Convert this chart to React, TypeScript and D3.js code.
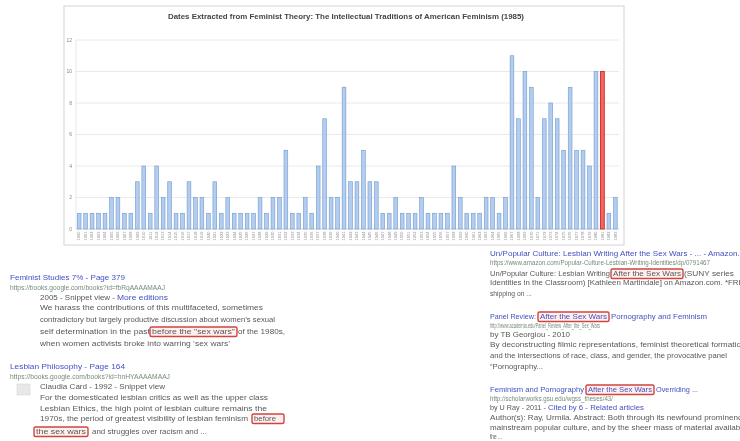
import React from 'react';
import * as d3 from 'd3';

const chartTitle = 'Dates Extracted from Feminist Theory: The Intellectual Traditions of American Feminism (1985)';
const years: string[] = [
  '1900','1901','1902','1903','1904','1905','1906','1907','1908','1909',
  '1910','1911','1912','1913','1914','1915','1916','1917','1918','1919',
  '1920','1921','1922','1923','1924','1925','1926','1927','1928','1929',
  '1930','1931','1932','1933','1934','1935','1936','1937','1938','1939',
  '1940','1941','1942','1943','1944','1945','1946','1947','1948','1949',
  '1950','1951','1952','1953','1954','1955','1956','1957','1958','1959',
  '1960','1961','1962','1963','1964','1965','1966','1967','1968','1969',
  '1970','1971','1972','1973','1974','1975','1976','1977','1978','1979',
  '1980','1981','1982','1983'
];
const counts: number[] = [
  1,1,1,1,1,2,2,1,1,3,
  4,1,4,2,3,1,1,3,2,2,
  1,3,1,2,1,1,1,1,2,1,
  2,2,5,1,1,2,1,4,7,2,
  2,9,3,3,5,3,3,1,1,2,
  1,1,1,2,1,1,1,1,4,2,
  1,1,1,2,2,1,2,11,7,10,
  9,2,7,8,7,5,9,5,5,4,
  10,10,1,2
];
const highlightYear = '1981';
const yTicks: number[] = [0, 2, 4, 6, 8, 10, 12];

type Seg = { t: string; x: number; w: number; c?: string; box?: boolean; bw?: number };
type Line = { y: number; segs: Seg[] };

const BLUE = '#4350c2';
const GREEN = '#768b78';
const GRAY = '#585858';

const resultLines: Line[] = [
  { y: 280, segs: [{ t: 'Feminist Studies 7% - Page 379', x: 10, w: 115, c: BLUE }] },
  { y: 290, segs: [{ t: 'https://books.google.com/books?id=fbRqAAAAMAAJ', x: 10, w: 155, c: GREEN }] },
  { y: 300, segs: [{ t: '2005 - Snippet view -', x: 40, w: 75 }, { t: 'More editions', x: 117, w: 51, c: BLUE }] },
  { y: 310, segs: [{ t: 'We harass the contributions of this multifaceted, sometimes', x: 40, w: 223 }] },
  { y: 322, segs: [{ t: 'contradictory but largely productive discussion about women\u2019s sexual', x: 40, w: 235 }] },
  { y: 334, segs: [{ t: 'self determination in the past', x: 40, w: 110 }, { t: 'before the "sex wars"', x: 152, w: 83, box: true }, { t: 'of the 1980s,', x: 238, w: 47 }] },
  { y: 346, segs: [{ t: 'when women activists broke into warring \u2018sex wars\u2019', x: 40, w: 190 }] },

  { y: 369, segs: [{ t: 'Lesbian Philosophy - Page 164', x: 10, w: 115, c: BLUE }] },
  { y: 379, segs: [{ t: 'https://books.google.com/books?id=hnHYAAAAMAAJ', x: 10, w: 160, c: GREEN }] },
  { y: 389, segs: [{ t: 'Claudia Card - 1992 - Snippet view', x: 40, w: 125 }] },
  { y: 400, segs: [{ t: 'For the domesticated lesbian critics as well as the upper class', x: 40, w: 228 }] },
  { y: 410.5, segs: [{ t: 'Lesbian Ethics, the high point of lesbian culture remains the', x: 40, w: 227 }] },
  { y: 421, segs: [{ t: '1970s, the period of greatest visibility of lesbian feminism', x: 40, w: 208 }, { t: 'before', x: 254, w: 22, box: true, bw: 28 }] },
  { y: 434, segs: [{ t: 'the sex wars', x: 36, w: 50, box: true }, { t: 'and struggles over racism and ...', x: 92, w: 115 }] },

  { y: 256, segs: [{ t: 'Un/Popular Culture: Lesbian Writing After the Sex Wars - ... - Amazon.com', x: 490, w: 265, c: BLUE }] },
  { y: 265, segs: [{ t: 'https://www.amazon.com/Popular-Culture-Lesbian-Writing-Identities/dp/0791467', x: 490, w: 220, c: GREEN }] },
  { y: 276, segs: [{ t: 'Un/Popular Culture: Lesbian Writing', x: 490, w: 120 }, { t: 'After the Sex Wars', x: 613, w: 68, box: true }, { t: '(SUNY series', x: 684, w: 50 }] },
  { y: 285, segs: [{ t: 'Identities in the Classroom) [Kathleen Martindale] on Amazon.com. *FREE*', x: 490, w: 262 }] },
  { y: 296, segs: [{ t: 'shipping on ...', x: 490, w: 42 }] },

  { y: 319, segs: [{ t: 'Panel Review:', x: 490, w: 46, c: BLUE }, { t: 'After the Sex Wars', x: 540, w: 67, c: BLUE, box: true }, { t: 'Pornography and Feminism', x: 611, w: 96, c: BLUE }] },
  { y: 328, segs: [{ t: 'http://www.academia.edu/Panel_Review_After_the_Sex_Wars', x: 490, w: 110, c: GREEN }] },
  { y: 337, segs: [{ t: 'by TB Georgiou - 2010', x: 490, w: 80 }] },
  { y: 347, segs: [{ t: 'By deconstructing filmic representations, feminist theoretical formations,', x: 490, w: 262 }] },
  { y: 358, segs: [{ t: 'and the intersections of race, class, and gender, the provocative panel', x: 490, w: 237 }] },
  { y: 369, segs: [{ t: '\u201cPornography...', x: 490, w: 53 }] },

  { y: 392, segs: [{ t: 'Feminism and Pornography', x: 490, w: 94, c: BLUE }, { t: 'After the Sex Wars', x: 588, w: 64, c: BLUE, box: true }, { t: 'Overriding ...', x: 656, w: 42, c: BLUE }] },
  { y: 401, segs: [{ t: 'http://scholarworks.gsu.edu/wgss_theses/43/', x: 490, w: 123, c: GREEN }] },
  { y: 410, segs: [{ t: 'by U Ray - 2011 -', x: 490, w: 56 }, { t: 'Cited by 6 - Related articles', x: 548, w: 96, c: BLUE }] },
  { y: 420, segs: [{ t: 'Author(s): Ray, Urmila. Abstract: Both through its newfound prominence in', x: 490, w: 265 }] },
  { y: 430, segs: [{ t: 'mainstream popular culture, and by the sheer mass of material available in', x: 490, w: 265 }] },
  { y: 439, segs: [{ t: 'the ...', x: 490, w: 12 }] },
];

export default function App() {
  const W = 740, H = 441;
  const x = d3.scaleBand<string>().domain(years).range([76, 618.5]).paddingInner(0.42).paddingOuter(0.2);
  const y = d3.scaleLinear().domain([0, 12]).range([229, 40]);
  const font = 'Liberation Sans, Arial, sans-serif';

  return (
    <svg width={W} height={H} style={{ position: 'absolute', left: 0, top: 0, background: '#fff' }} fontFamily={font}>
      <defs>
        <filter id="soft" x="-2%" y="-2%" width="104%" height="104%">
          <feGaussianBlur stdDeviation={0.4} />
        </filter>
      </defs>
      <rect x={0} y={0} width={W} height={H} fill="#fff" />
      <g filter="url(#soft)">
        {/* chart frame */}
        <rect x={64} y={6} width={560} height={239} fill="#fff" stroke="#d4d4d4" strokeWidth={1} />
        <text x={346} y={19} textAnchor="middle" fontSize={6.6} fontWeight="bold" fill="#444" textLength={356} lengthAdjust="spacingAndGlyphs">{chartTitle}</text>
        {yTicks.map(t => (
          <g key={t}>
            <line x1={76} x2={619} y1={y(t)} y2={y(t)} stroke={t === 0 ? '#c8c8c8' : '#e4e4e4'} strokeWidth={0.8} />
            <text x={72} y={y(t) + 1.7} textAnchor="end" fontSize={5} fill="#888">{t}</text>
          </g>
        ))}
        <line x1={76} x2={76} y1={40} y2={229} stroke="#d8d8d8" strokeWidth={0.6} />
        {counts.map((v, i) => {
          const yr = years[i];
          const hi = yr === highlightYear;
          return (
            <rect key={yr} x={x(yr)!} y={y(v)} width={x.bandwidth()} height={y(0) - y(v)}
              fill={hi ? '#ee6a62' : '#b3cdee'} stroke={hi ? '#d8312a' : '#6f98d0'} strokeWidth={hi ? 1 : 0.6} />
          );
        })}
        {years.map(yr => {
          const cx = x(yr)! + x.bandwidth() / 2;
          return (
            <text key={'l' + yr} transform={`translate(${cx + 1.3},231.5) rotate(-90)`} textAnchor="end" fontSize={4} fill="#8a8a8a">{yr}</text>
          );
        })}
        {/* search result snippets */}
        <rect x={17} y={384} width={13} height={11} fill="#e8e8e8" stroke="#d0d0d0" strokeWidth={0.5} />
        {resultLines.map((ln, li) => (
          <g key={'r' + li}>
            {ln.segs.map((s, si) => (
              <g key={si}>
                {s.box && (
                  <rect x={s.x - 2} y={ln.y - 7} width={(s.bw || s.w) + 4} height={9.5} rx={1.5}
                    fill="rgba(255,210,210,0.35)" stroke="#d0453f" strokeWidth={1.4} />
                )}
                <text x={s.x} y={ln.y} fontSize={7} fill={s.c || GRAY} textLength={s.w} lengthAdjust="spacingAndGlyphs">{s.t}</text>
              </g>
            ))}
          </g>
        ))}
      </g>
    </svg>
  );
}
